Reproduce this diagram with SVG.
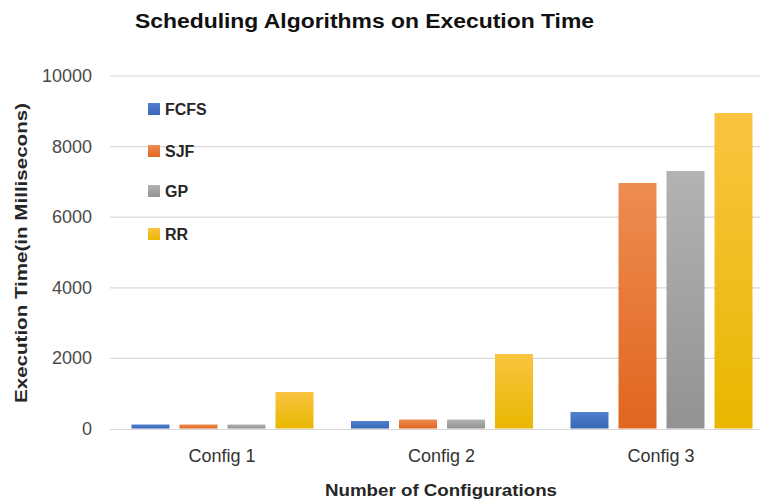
<svg xmlns="http://www.w3.org/2000/svg" width="764" height="503" viewBox="0 0 764 503">
  <style>
    text { font-family: "Liberation Sans", Arial, sans-serif; fill: #404040; }
    .title { font-size: 20px; font-weight: bold; fill: #111111; }
    .tick { font-size: 18px; text-anchor: end; fill: #4a4a4a; }
    .cat { font-size: 18px; text-anchor: middle; fill: #333333; }
    .axis-title { font-size: 17px; font-weight: bold; fill: #262626; }
    .legend { font-size: 16px; font-weight: bold; fill: #262626; }
    .grid { stroke: #D9D9D9; stroke-width: 1.2; }
  </style>
  <defs>
    <linearGradient id="gFCFS" x1="0" y1="0" x2="0" y2="1">
      <stop offset="0" stop-color="#5080CF"/>
      <stop offset="1" stop-color="#3A66B5"/>
    </linearGradient>
    <linearGradient id="gSJF" x1="0" y1="0" x2="0" y2="1">
      <stop offset="0" stop-color="#EE8C52"/>
      <stop offset="1" stop-color="#E0661E"/>
    </linearGradient>
    <linearGradient id="gGP" x1="0" y1="0" x2="0" y2="1">
      <stop offset="0" stop-color="#B3B3B3"/>
      <stop offset="1" stop-color="#929292"/>
    </linearGradient>
    <linearGradient id="gRR" x1="0" y1="0" x2="0" y2="1">
      <stop offset="0" stop-color="#FAC441"/>
      <stop offset="1" stop-color="#E9B700"/>
    </linearGradient>
  </defs>

  <rect width="764" height="503" fill="#FFFFFF"/>

  <!-- chart title -->
  <text id="title" class="title" x="364.5" y="28" text-anchor="middle" textLength="459" lengthAdjust="spacingAndGlyphs">Scheduling Algorithms on Execution Time</text>

  <!-- value axis: gridlines and tick labels -->
  <g id="value-axis">
    <line class="grid" x1="110" y1="76" x2="760" y2="76"/>
    <line class="grid" x1="110" y1="146.6" x2="760" y2="146.6"/>
    <line class="grid" x1="110" y1="217.2" x2="760" y2="217.2"/>
    <line class="grid" x1="110" y1="287.8" x2="760" y2="287.8"/>
    <line class="grid" x1="110" y1="358.4" x2="760" y2="358.4"/>
    <line class="grid" x1="110" y1="429.5" x2="760" y2="429.5"/>
    <text class="tick" x="92" y="82">10000</text>
    <text class="tick" x="92" y="153">8000</text>
    <text class="tick" x="92" y="223">6000</text>
    <text class="tick" x="92" y="294">4000</text>
    <text class="tick" x="92" y="364">2000</text>
    <text class="tick" x="92" y="435">0</text>
    <text class="axis-title" transform="translate(27 253) rotate(-90)" text-anchor="middle" textLength="300" lengthAdjust="spacingAndGlyphs">Execution Time(in Millisecons)</text>
  </g>

  <!-- bars, one group per series -->
  <g id="series-FCFS" fill="url(#gFCFS)">
    <rect x="131.5" y="424.5" width="38" height="4"/>
    <rect x="351" y="421" width="38" height="7.5"/>
    <rect x="570.5" y="412" width="38" height="16.5"/>
  </g>
  <g id="series-SJF" fill="url(#gSJF)">
    <rect x="179.5" y="424.5" width="38" height="4"/>
    <rect x="399" y="419.5" width="38" height="9"/>
    <rect x="618.5" y="183" width="38" height="245.5"/>
  </g>
  <g id="series-GP" fill="url(#gGP)">
    <rect x="227.5" y="424.5" width="38" height="4"/>
    <rect x="447" y="419.5" width="38" height="9"/>
    <rect x="666.5" y="171" width="38" height="257.5"/>
  </g>
  <g id="series-RR" fill="url(#gRR)">
    <rect x="275.5" y="392" width="38" height="36.5"/>
    <rect x="495" y="354" width="38" height="74.5"/>
    <rect x="714.5" y="113" width="38" height="315.5"/>
  </g>

  <!-- category axis -->
  <g id="category-axis">
    <text class="cat" x="222" y="462">Config 1</text>
    <text class="cat" x="441.5" y="462">Config 2</text>
    <text class="cat" x="661" y="462">Config 3</text>
    <text class="axis-title" x="441" y="496" text-anchor="middle" textLength="232" lengthAdjust="spacingAndGlyphs">Number of Configurations</text>
  </g>

  <!-- legend -->
  <g id="legend">
    <rect x="148" y="103" width="12" height="12" fill="url(#gFCFS)"/>
    <text class="legend" x="165" y="115">FCFS</text>
    <rect x="148" y="145" width="12" height="12" fill="url(#gSJF)"/>
    <text class="legend" x="165" y="157">SJF</text>
    <rect x="148" y="185" width="12" height="12" fill="url(#gGP)"/>
    <text class="legend" x="165" y="197">GP</text>
    <rect x="148" y="228" width="12" height="12" fill="url(#gRR)"/>
    <text class="legend" x="165" y="240">RR</text>
  </g>
</svg>
